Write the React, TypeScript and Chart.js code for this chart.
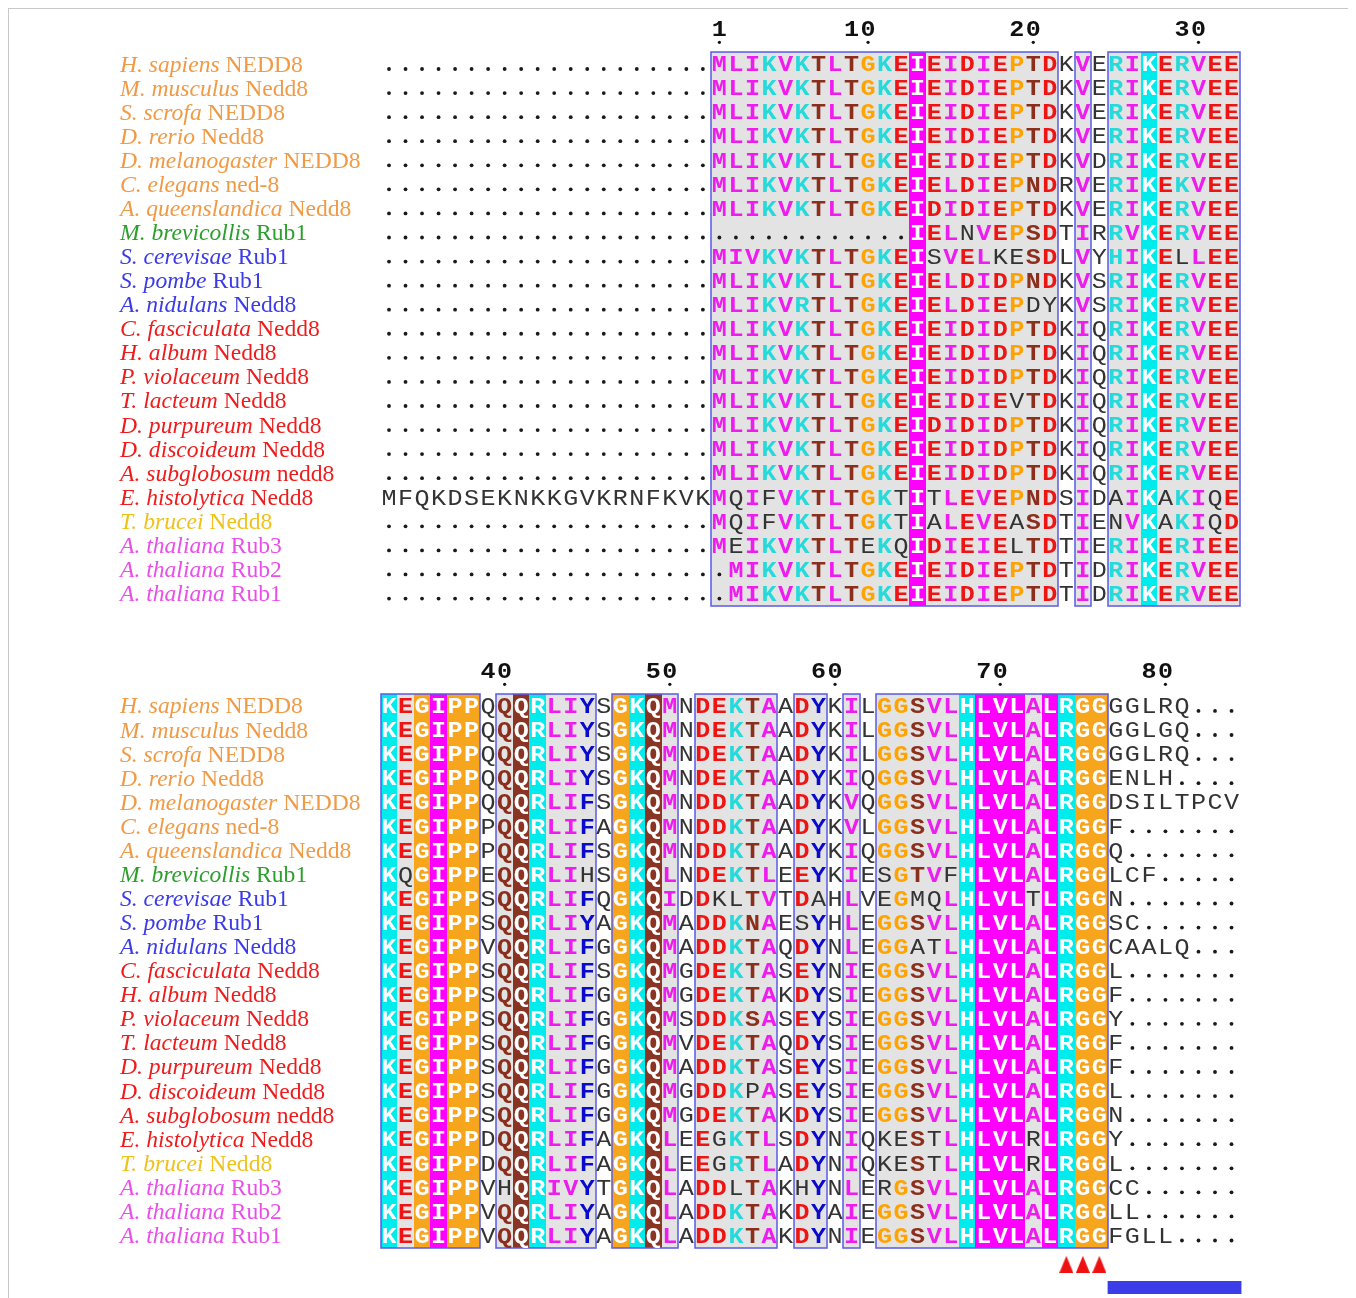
import React, { useEffect, useRef } from "react";
import { Chart, registerables } from "chart.js";

Chart.register(...registerables);

// ---------------- DATA ----------------
const SPECIES = [
  "H. sapiens", "M. musculus", "S. scrofa", "D. rerio", "D. melanogaster", "C. elegans",
  "A. queenslandica", "M. brevicollis", "S. cerevisae", "S. pombe", "A. nidulans",
  "C. fasciculata", "H. album", "P. violaceum", "T. lacteum", "D. purpureum", "D. discoideum",
  "A. subglobosum", "E. histolytica", "T. brucei", "A. thaliana", "A. thaliana", "A. thaliana",
];
const PROTEINS = [
  "NEDD8", "Nedd8", "NEDD8", "Nedd8", "NEDD8", "ned-8", "Nedd8", "Rub1", "Rub1", "Rub1", "Nedd8",
  "Nedd8", "Nedd8", "Nedd8", "Nedd8", "Nedd8", "Nedd8", "nedd8", "Nedd8", "Nedd8", "Rub3", "Rub2", "Rub1",
];
const CLADES = [
  "metazoa", "metazoa", "metazoa", "metazoa", "metazoa", "metazoa", "metazoa", "choano",
  "fungi", "fungi", "fungi", "amoebozoa", "amoebozoa", "amoebozoa", "amoebozoa", "amoebozoa",
  "amoebozoa", "amoebozoa", "amoebozoa", "excavata", "plant", "plant", "plant",
];

const PAD = "....................";
// columns -19 .. 32
const TOP_SEQS = [
  PAD + "MLIKVKTLTGKEIEIDIEPTDKVERIKERVEE",
  PAD + "MLIKVKTLTGKEIEIDIEPTDKVERIKERVEE",
  PAD + "MLIKVKTLTGKEIEIDIEPTDKVERIKERVEE",
  PAD + "MLIKVKTLTGKEIEIDIEPTDKVERIKERVEE",
  PAD + "MLIKVKTLTGKEIEIDIEPTDKVDRIKERVEE",
  PAD + "MLIKVKTLTGKEIELDIEPNDRVERIKEKVEE",
  PAD + "MLIKVKTLTGKEIDIDIEPTDKVERIKERVEE",
  PAD + "............IELNVEPSDTIRRVKERVEE",
  PAD + "MIVKVKTLTGKEISVELKESDLVYHIKELLEE",
  PAD + "MLIKVKTLTGKEIELDIDPNDKVSRIKERVEE",
  PAD + "MLIKVRTLTGKEIELDIEPDYKVSRIKERVEE",
  PAD + "MLIKVKTLTGKEIEIDIDPTDKIQRIKERVEE",
  PAD + "MLIKVKTLTGKEIEIDIDPTDKIQRIKERVEE",
  PAD + "MLIKVKTLTGKEIEIDIDPTDKIQRIKERVEE",
  PAD + "MLIKVKTLTGKEIEIDIEVTDKIQRIKERVEE",
  PAD + "MLIKVKTLTGKEIDIDIDPTDKIQRIKERVEE",
  PAD + "MLIKVKTLTGKEIEIDIDPTDKIQRIKERVEE",
  PAD + "MLIKVKTLTGKEIEIDIDPTDKIQRIKERVEE",
  "MFQKDSEKNKKGVKRNFKVK" + "MQIFVKTLTGKTITLEVEPNDSIDAIKAKIQE",
  PAD + "MQIFVKTLTGKTIALEVEASDTIENVKAKIQD",
  PAD + "MEIKVKTLTEKQIDIEIELTDTIERIKERIEE",
  PAD + ".MIKVKTLTGKEIEIDIEPTDTIDRIKERVEE",
  PAD + ".MIKVKTLTGKEIEIDIEPTDTIDRIKERVEE",
];
// columns 33 .. 84
const BOTTOM_SEQS = [
  "KEGIPPQQQRLIYSGKQMNDEKTAADYKILGGSVLHLVLALRGGGGLRQ...",
  "KEGIPPQQQRLIYSGKQMNDEKTAADYKILGGSVLHLVLALRGGGGLGQ...",
  "KEGIPPQQQRLIYSGKQMNDEKTAADYKILGGSVLHLVLALRGGGGLRQ...",
  "KEGIPPQQQRLIYSGKQMNDEKTAADYKIQGGSVLHLVLALRGGENLH....",
  "KEGIPPQQQRLIFSGKQMNDDKTAADYKVQGGSVLHLVLALRGGDSILTPCV",
  "KEGIPPPQQRLIFAGKQMNDDKTAADYKVLGGSVLHLVLALRGGF.......",
  "KEGIPPPQQRLIFSGKQMNDDKTAADYKIQGGSVLHLVLALRGGQ.......",
  "KQGIPPEQQRLIHSGKQLNDEKTLEEYKIESGTVFHLVLALRGGLCF.....",
  "KEGIPPSQQRLIFQGKQIDDKLTVTDAHLVEGMQLHLVLTLRGGN.......",
  "KEGIPPSQQRLIYAGKQMADDKNAESYHLEGGSVLHLVLALRGGSC......",
  "KEGIPPVQQRLIFGGKQMADDKTAQDYNLEGGATLHLVLALRGGCAALQ...",
  "KEGIPPSQQRLIFSGKQMGDEKTASEYNIEGGSVLHLVLALRGGL.......",
  "KEGIPPSQQRLIFGGKQMGDEKTAKDYSIEGGSVLHLVLALRGGF.......",
  "KEGIPPSQQRLIFGGKQMSDDKSASEYSIEGGSVLHLVLALRGGY.......",
  "KEGIPPSQQRLIFGGKQMVDEKTAQDYSIEGGSVLHLVLALRGGF.......",
  "KEGIPPSQQRLIFGGKQMADDKTASEYSIEGGSVLHLVLALRGGF.......",
  "KEGIPPSQQRLIFGGKQMGDDKPASEYSIEGGSVLHLVLALRGGL.......",
  "KEGIPPSQQRLIFGGKQMGDEKTAKDYSIEGGSVLHLVLALRGGN.......",
  "KEGIPPDQQRLIFAGKQLEEGKTLSDYNIQKESTLHLVLRLRGGY.......",
  "KEGIPPDQQRLIFAGKQLEEGRTLADYNIQKESTLHLVLRLRGGL.......",
  "KEGIPPVHQRIVYTGKQLADDLTAKHYNLERGSVLHLVLALRGGCC......",
  "KEGIPPVQQRLIYAGKQLADDKTAKDYAIEGGSVLHLVLALRGGLL......",
  "KEGIPPVQQRLIYAGKQLADDKTAKDYNIEGGSVLHLVLALRGGFGLL....",
];

const TOP_FIRST_COL = -19;
const BOTTOM_FIRST_COL = 33;
const TOP_TICKS = [1, 10, 20, 30];
const BOTTOM_TICKS = [40, 50, 60, 70, 80];
const TOP_BOXES = [[1, 21], [23, 23], [25, 32]];
const BOTTOM_BOXES = [[33, 38], [40, 45], [47, 50], [52, 56], [58, 59], [61, 61], [63, 76]];
const SITE_MARKS = [74, 75, 76];
const TAIL_RANGE = [76.5, 84.6];

// ---------------- STYLE / LAYOUT ----------------
const CANVAS_W = 1342;
const CANVAS_H = 1298;
const COL_PX = 16.52;
const COL0_PX = 380;
const ROW_PX = 24.07;
const ROW0_PX = 55;
const BOTTOM_ROW_OFFSET = 26.67;
const LABEL_X_PX = 111;

const SEQ_FONT = '"Liberation Mono", "Courier New", monospace';
const LABEL_FONT = '"Liberation Serif", "Times New Roman", serif';
const SEQ_SIZE = 22;
const SEQ_STRETCH = 1.14;
const LABEL_SIZE = 23.6;

const GROUP_OF: Record<string, string> = {
  A: "hyd", I: "hyd", L: "hyd", M: "hyd", V: "hyd",
  K: "bas", R: "bas", H: "bas",
  D: "acid", E: "acid",
  S: "pol", T: "pol", N: "pol", Q: "pol",
  G: "gp", P: "gp",
  F: "aro", Y: "aro", W: "aro",
};
const LETTER_COLOR: Record<string, string> = {
  hyd: "#ee1cee", bas: "#25dada", acid: "#ee1414", pol: "#8b2f1c", gp: "#ffa300", aro: "#0a0acc",
};
const FILL_COLOR: Record<string, string> = {
  hyd: "#ff00ff", bas: "#00ecec", acid: "#ee1414", pol: "#8a3424", gp: "#f8a51e", aro: "#0a0acc",
};
const CLADE_COLOR: Record<string, string> = {
  metazoa: "#f09a45", choano: "#2ca02c", fungi: "#3b3be8", amoebozoa: "#ee1c1c",
  excavata: "#efc21a", plant: "#e94ee9",
};
const BOX_FILL = "#e3e3e3";
const BOX_LINE = "#5a5ae6";
const PLAIN_LETTER = "#333333";
const MARK_COLOR = "#ee1111";
const TAIL_COLOR = "#3c3ce8";

function glyph(ctx: CanvasRenderingContext2D, ch: string, x: number, y: number) {
  ctx.save();
  ctx.translate(x, y);
  ctx.scale(SEQ_STRETCH, 1);
  ctx.fillText(ch, 0, 0);
  ctx.restore();
}

function drawBlock(ctx: CanvasRenderingContext2D, xs: any, ys: any, seqs: string[], firstCol: number,
  boxes: number[][], ticks: number[], rowOff: number) {
  const nCols = seqs[0].length;
  const half = (xs.getPixelForValue(1) - xs.getPixelForValue(0)) / 2;
  const yTop = Math.round(ys.getPixelForValue(rowOff - 0.5));
  const yBot = Math.round(ys.getPixelForValue(rowOff + seqs.length - 0.5));
  const inBox = (c: number) => boxes.some((b) => c >= b[0] && c <= b[1]);
  const info: { boxed: boolean; conserved: boolean; group: string }[] = [];
  for (let i = 0; i < nCols; i++) {
    const c = firstCol + i;
    const letters = seqs.map((s) => s[i]);
    const boxed = inBox(c);
    const conserved = boxed && letters.every((l) => l === letters[0] && l !== ".");
    const counts: Record<string, number> = {};
    letters.forEach((l) => { if (l !== ".") counts[l] = (counts[l] || 0) + 1; });
    let cons = ".", best = 0;
    for (const k in counts) if (counts[k] > best) { best = counts[k]; cons = k; }
    info.push({ boxed, conserved, group: GROUP_OF[cons] });
  }
  ctx.save();
  // backgrounds
  for (let i = 0; i < nCols; i++) {
    if (!info[i].boxed) continue;
    const x = xs.getPixelForValue(i);
    const l = Math.round(x - half), r = Math.round(x + half);
    ctx.fillStyle = info[i].conserved ? FILL_COLOR[info[i].group] : BOX_FILL;
    ctx.fillRect(l, yTop, r - l, yBot - yTop);
  }
  // box outlines
  ctx.strokeStyle = BOX_LINE;
  ctx.lineWidth = 1.5;
  boxes.forEach(([a, b]) => {
    const l = Math.round(xs.getPixelForValue(a - firstCol) - half);
    const r = Math.round(xs.getPixelForValue(b - firstCol) + half);
    ctx.strokeRect(l, yTop, r - l, yBot - yTop);
  });
  // letters
  ctx.textAlign = "center";
  ctx.textBaseline = "alphabetic";
  const capHalf = SEQ_SIZE * 0.33;
  for (let r = 0; r < seqs.length; r++) {
    const y = ys.getPixelForValue(rowOff + r);
    for (let i = 0; i < nCols; i++) {
      const ch = seqs[r][i];
      const x = xs.getPixelForValue(i);
      if (ch === ".") {
        ctx.fillStyle = "#1a1a1a";
        ctx.beginPath();
        ctx.arc(x, y + 5, 1.9, 0, Math.PI * 2);
        ctx.fill();
        continue;
      }
      const inf = info[i];
      if (inf.conserved) {
        ctx.font = `bold ${SEQ_SIZE}px ${SEQ_FONT}`;
        ctx.fillStyle = "#ffffff";
      } else if (inf.boxed && GROUP_OF[ch] === inf.group) {
        ctx.font = `bold ${SEQ_SIZE}px ${SEQ_FONT}`;
        ctx.fillStyle = LETTER_COLOR[inf.group];
      } else {
        ctx.font = `${SEQ_SIZE}px ${SEQ_FONT}`;
        ctx.fillStyle = PLAIN_LETTER;
      }
      glyph(ctx, ch, x, y + capHalf);
    }
    // label
    const cl = CLADE_COLOR[CLADES[r]];
    ctx.textAlign = "left";
    ctx.fillStyle = cl;
    ctx.font = `italic ${LABEL_SIZE}px ${LABEL_FONT}`;
    ctx.fillText(SPECIES[r], LABEL_X_PX, y + 7.5);
    const w = ctx.measureText(SPECIES[r] + " ").width;
    ctx.font = `${LABEL_SIZE}px ${LABEL_FONT}`;
    ctx.fillText(PROTEINS[r], LABEL_X_PX + w, y + 7.5);
    ctx.textAlign = "center";
  }
  // ruler
  ctx.fillStyle = "#111111";
  ctx.font = `bold ${SEQ_SIZE}px ${SEQ_FONT}`;
  const yNum = ys.getPixelForValue(rowOff - 1.45);
  const yDot = ys.getPixelForValue(rowOff - 0.9);
  ticks.forEach((n) => {
    const s = String(n);
    const i = n - firstCol;
    for (let k = 0; k < s.length; k++) {
      const xi = xs.getPixelForValue(i - (s.length - 1 - k));
      glyph(ctx, s[k], xi, yNum + capHalf);
    }
    ctx.beginPath();
    ctx.arc(xs.getPixelForValue(i), yDot, 1.6, 0, Math.PI * 2);
    ctx.fill();
  });
  ctx.restore();
}

const alignmentPlugin = {
  id: "alignment",
  beforeDatasetsDraw(chart: any) {
    const ctx = chart.ctx as CanvasRenderingContext2D;
    const xs = chart.scales.x, ys = chart.scales.y;
    drawBlock(ctx, xs, ys, TOP_SEQS, TOP_FIRST_COL, TOP_BOXES, TOP_TICKS, 0);
    drawBlock(ctx, xs, ys, BOTTOM_SEQS, BOTTOM_FIRST_COL, BOTTOM_BOXES, BOTTOM_TICKS, BOTTOM_ROW_OFFSET);
  },
};

export default function App() {
  const ref = useRef<HTMLCanvasElement>(null);
  useEffect(() => {
    const canvas = ref.current!;
    const tri = document.createElement("canvas");
    tri.width = 14;
    tri.height = 17;
    const tctx = tri.getContext("2d")!;
    tctx.fillStyle = MARK_COLOR;
    tctx.beginPath();
    tctx.moveTo(7, 0);
    tctx.lineTo(14, 17);
    tctx.lineTo(0, 17);
    tctx.closePath();
    tctx.fill();

    const lastRow = BOTTOM_ROW_OFFSET + BOTTOM_SEQS.length - 1;
    const markRow = lastRow + 1.2;
    const tailRow = lastRow + 2.16;

    const chart = new Chart(canvas, {
      type: "scatter",
      data: {
        datasets: [
          {
            data: SITE_MARKS.map((c) => ({ x: c - BOTTOM_FIRST_COL, y: markRow })),
            pointStyle: tri as any,
            pointRadius: 9,
            backgroundColor: MARK_COLOR,
            borderWidth: 0,
          },
          {
            data: TAIL_RANGE.map((c) => ({ x: c - BOTTOM_FIRST_COL, y: tailRow })),
            showLine: true,
            borderColor: TAIL_COLOR,
            backgroundColor: TAIL_COLOR,
            borderWidth: 13,
            borderCapStyle: "butt",
            pointRadius: 0,
          } as any,
        ],
      },
      options: {
        animation: false,
        responsive: false,
        devicePixelRatio: 1,
        events: [],
        layout: { padding: 0, autoPadding: false },
        plugins: { legend: { display: false }, tooltip: { enabled: false } },
        scales: {
          x: { type: "linear", display: false, min: -COL0_PX / COL_PX, max: (CANVAS_W - COL0_PX) / COL_PX },
          y: { type: "linear", display: false, reverse: true, min: -ROW0_PX / ROW_PX, max: (CANVAS_H - ROW0_PX) / ROW_PX },
        },
      } as any,
      plugins: [alignmentPlugin],
    });
    return () => chart.destroy();
  }, []);
  return (
    <div style={{ width: CANVAS_W, height: CANVAS_H, border: "1px solid #c8c8c8", background: "#ffffff" }}>
      <canvas ref={ref} width={CANVAS_W} height={CANVAS_H} style={{ display: "block" }} />
    </div>
  );
}
